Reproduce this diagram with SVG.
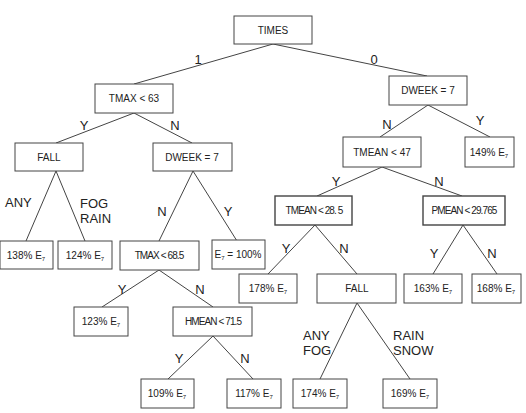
<svg xmlns="http://www.w3.org/2000/svg" width="526" height="413" viewBox="0 0 526 413">
<style>
.box{fill:#fff;stroke:#444;stroke-width:1}
.t{font-family:"Liberation Sans",Arial,sans-serif;font-size:10px;fill:#222;text-anchor:middle}
.c{letter-spacing:-0.9px}
.s{font-size:6px}
.lab{font-family:"Liberation Sans",Arial,sans-serif;font-size:13px;fill:#222}
.edge{stroke:#444;stroke-width:1;fill:none}
</style>
<rect width="526" height="413" fill="#fff"/>
<g id="connectors">
<path class="edge" d="M273,44 L134,84 M273,44 L427,76"/>
<path class="edge" d="M134,113 L56,143 M134,113 L192,143"/>
<path class="edge" d="M56,171 L26,241 M56,171 L85,241"/>
<path class="edge" d="M193,171 L159,241 M193,171 L237,241"/>
<path class="edge" d="M159,270 L102,307 M159,270 L213,307"/>
<path class="edge" d="M213,336 L168,379 M213,336 L253,379"/>
<path class="edge" d="M428,105 L380,137 M428,105 L490,137"/>
<path class="edge" d="M382,167 L317,196 M382,167 L462,196"/>
<path class="edge" d="M315,225 L268,274 M315,225 L357,274"/>
<path class="edge" d="M463,225 L433,274 M463,225 L497,274"/>
<path class="edge" d="M357,303 L320,379 M357,303 L410,379"/>
<text class="lab" x="198" y="64" text-anchor="middle">1</text>
<text class="lab" x="374" y="64" text-anchor="middle">0</text>
<text class="lab" x="84" y="130" text-anchor="middle">Y</text>
<text class="lab" x="175" y="130" text-anchor="middle">N</text>
<text class="lab" x="5" y="207">ANY</text>
<text class="lab" x="80" y="208">FOG</text>
<text class="lab" x="80" y="223">RAIN</text>
<text class="lab" x="162" y="216" text-anchor="middle">N</text>
<text class="lab" x="228" y="216" text-anchor="middle">Y</text>
<text class="lab" x="122" y="294" text-anchor="middle">Y</text>
<text class="lab" x="200" y="294" text-anchor="middle">N</text>
<text class="lab" x="179" y="363" text-anchor="middle">Y</text>
<text class="lab" x="245" y="363" text-anchor="middle">N</text>
<text class="lab" x="387" y="129" text-anchor="middle">N</text>
<text class="lab" x="480" y="125" text-anchor="middle">Y</text>
<text class="lab" x="336" y="186" text-anchor="middle">Y</text>
<text class="lab" x="439" y="186" text-anchor="middle">N</text>
<text class="lab" x="286" y="253" text-anchor="middle">Y</text>
<text class="lab" x="344" y="253" text-anchor="middle">N</text>
<text class="lab" x="434" y="258" text-anchor="middle">Y</text>
<text class="lab" x="492" y="258" text-anchor="middle">N</text>
<text class="lab" x="303" y="340">ANY</text>
<text class="lab" x="303" y="355">FOG</text>
<text class="lab" x="393" y="340">RAIN</text>
<text class="lab" x="393" y="355">SNOW</text>
</g>
<g id="times"><rect class="box" x="234" y="16" width="78" height="28"/><text class="t" x="273" y="34">TIMES</text></g>
<g id="tmax63"><rect class="box" x="95" y="84" width="78" height="29"/><text class="t" x="134" y="102">TMAX &lt; 63</text></g>
<g id="dweek7r"><rect class="box" x="389" y="76" width="78" height="29"/><text class="t" x="428" y="94">DWEEK = 7</text></g>
<g id="fall1"><rect class="box" x="15" y="143" width="68" height="28"/><text class="t" x="49" y="161">FALL</text></g>
<g id="dweek7l"><rect class="box" x="153" y="143" width="79" height="28"/><text class="t" x="192" y="161">DWEEK = 7</text></g>
<g id="p138"><rect class="box" x="0" y="241" width="53" height="28"/><text class="t" x="26" y="259">138% E<tspan class="s" dy="2">7</tspan></text></g>
<g id="p124"><rect class="box" x="58" y="241" width="54" height="28"/><text class="t" x="85" y="259">124% E<tspan class="s" dy="2">7</tspan></text></g>
<g id="tmax685"><rect class="box" x="120" y="241" width="79" height="29"/><text class="t c" x="159" y="259">TMAX &lt; 68.5</text></g>
<g id="e100"><rect class="box" x="212" y="240" width="53" height="29"/><text class="t" x="238" y="258">E<tspan class="s" dy="2">7</tspan><tspan dy="-2"> = 100%</tspan></text></g>
<g id="p123"><rect class="box" x="74" y="307" width="54" height="29"/><text class="t" x="101" y="325">123% E<tspan class="s" dy="2">7</tspan></text></g>
<g id="hmean"><rect class="box" x="173" y="307" width="79" height="29"/><text class="t c" x="213" y="325">HMEAN &lt; 71.5</text></g>
<g id="p109"><rect class="box" x="141" y="379" width="53" height="29"/><text class="t" x="167" y="397">109% E<tspan class="s" dy="2">7</tspan></text></g>
<g id="p117"><rect class="box" x="227" y="379" width="54" height="29"/><text class="t" x="254" y="397">117% E<tspan class="s" dy="2">7</tspan></text></g>
<g id="tmean47"><rect class="box" x="343" y="137" width="78" height="30"/><text class="t" x="382" y="156">TMEAN &lt; 47</text></g>
<g id="p149"><rect class="box" x="465" y="137" width="49" height="30"/><text class="t" x="489" y="156">149% E<tspan class="s" dy="2">7</tspan></text></g>
<g id="tmean285"><rect class="box" x="275" y="196" width="77" height="29" style="stroke-width:1.4"/><text class="t c" x="314" y="214">TMEAN &lt; 28. 5</text></g>
<g id="pmean"><rect class="box" x="423" y="196" width="82" height="29" style="stroke-width:1.4"/><text class="t c" x="464" y="214">PMEAN &lt; 29.765</text></g>
<g id="p178"><rect class="box" x="239" y="274" width="58" height="29"/><text class="t" x="268" y="292">178% E<tspan class="s" dy="2">7</tspan></text></g>
<g id="fall2"><rect class="box" x="317" y="274" width="79" height="29"/><text class="t" x="357" y="292">FALL</text></g>
<g id="p163"><rect class="box" x="404" y="274" width="58" height="29"/><text class="t" x="433" y="292">163% E<tspan class="s" dy="2">7</tspan></text></g>
<g id="p168"><rect class="box" x="472" y="274" width="49" height="29"/><text class="t" x="496" y="292">168% E<tspan class="s" dy="2">7</tspan></text></g>
<g id="p174"><rect class="box" x="293" y="379" width="54" height="29"/><text class="t" x="320" y="397">174% E<tspan class="s" dy="2">7</tspan></text></g>
<g id="p169"><rect class="box" x="383" y="379" width="54" height="29"/><text class="t" x="410" y="397">169% E<tspan class="s" dy="2">7</tspan></text></g>
</svg>
